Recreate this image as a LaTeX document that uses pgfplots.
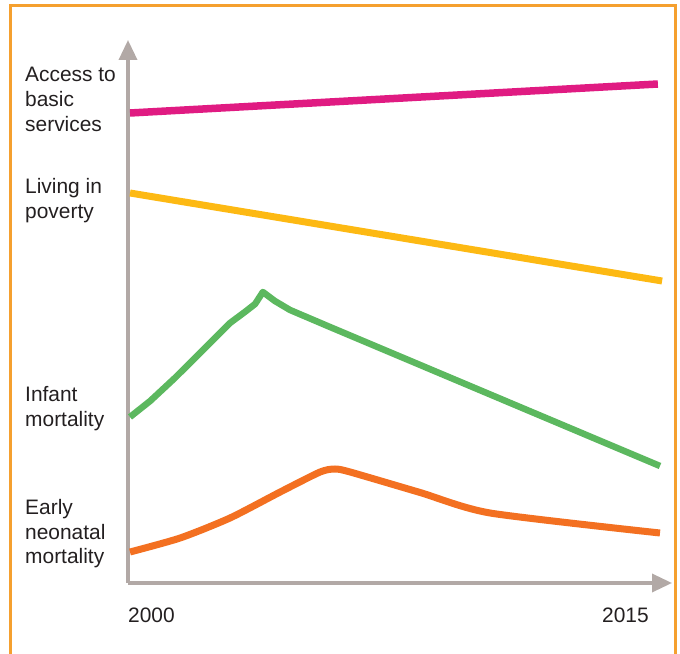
\documentclass[border=0pt]{standalone}
\usepackage{fontspec}
\setmainfont{Liberation Sans}
\usepackage{pgfplots}
\pgfplotsset{compat=1.18}
\usetikzlibrary{arrows.meta}
\definecolor{frameor}{HTML}{F5A02F}
\definecolor{axgray}{HTML}{B2A9A6}
\definecolor{cpink}{HTML}{E01B82}
\definecolor{cyellow}{HTML}{FDB913}
\definecolor{cgreen}{HTML}{5CB85F}
\definecolor{corange}{HTML}{F37021}
\definecolor{txt}{HTML}{231F20}
\begin{document}
\begin{tikzpicture}
\useasboundingbox (0,0) rectangle (680bp,654bp);
\draw[frameor, line width=3bp] (10.5bp,-5bp) -- (10.5bp,648bp) -- (675bp,648bp) -- (675bp,-5bp);
\begin{axis}[
  at={(128bp,71bp)}, anchor=south west,
  scale only axis, width=544bp, height=543bp,
  xmin=1999.943, xmax=2015.34, ymin=0, ymax=108.6,
  axis lines=left,
  axis line style={axgray, line width=3.5bp, -{Triangle[width=18bp,length=20bp]}},
  xtick=\empty, ytick=\empty,
  clip=false,
]
\addplot[cpink, line width=7.5bp] coordinates {(2000,94) (2014.94,99.8)};
\addplot[cyellow, line width=7bp] coordinates {(2000,78) (2015.06,60.4)};
\addplot[cgreen, line width=6.5bp, line join=round] coordinates {
(2000,33.2) (2000.57,36.4) (2001.27,41.0) (2001.98,46.0) (2002.83,52) (2003.25,54.2)
(2003.54,55.8) (2003.76,58.2) (2004.10,56.4) (2004.53,54.6) (2005.66,51.2) (2015,23.4)};
\addplot[corange, line width=7bp, smooth, tension=0.4] coordinates {
(2000,6.2) (2001.42,9) (2002.83,13) (2004.25,18.2) (2005.38,22.2) (2005.8,22.8)
(2006.23,22.2) (2008.21,18.1) (2010.19,14) (2015,10)};
\end{axis}
\begin{scope}[every node/.style={anchor=base west, inner sep=0pt, text=txt, font=\fontsize{21}{25}\selectfont}]
\node at (25bp,572bp) {Access to};
\node at (25bp,547bp) {basic};
\node at (25bp,522bp) {services};
\node at (25bp,460bp) {Living in};
\node at (25bp,435bp) {poverty};
\node at (25bp,252bp) {Infant};
\node at (25bp,227bp) {mortality};
\node at (25bp,139bp) {Early};
\node at (25bp,114bp) {neonatal};
\node at (25bp,90bp) {mortality};
\node at (128bp,32bp) {2000};
\node at (602bp,32bp) {2015};
\end{scope}
\end{tikzpicture}
\end{document}
